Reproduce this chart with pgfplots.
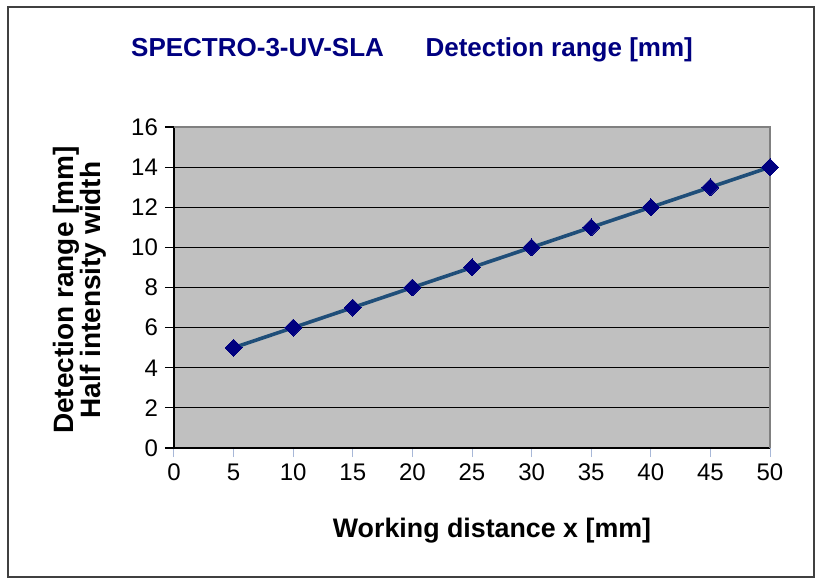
\documentclass[border=0pt]{standalone}
\usepackage{pgfplots}
\pgfplotsset{compat=1.18}
\usepackage{fontspec}
\setmainfont{Liberation Sans}
\definecolor{plotbg}{HTML}{C0C0C0}
\definecolor{navy}{HTML}{000080}
\definecolor{linec}{HTML}{1F4E79}
\definecolor{xtickc}{HTML}{A8B8D8}
\begin{document}
\begin{tikzpicture}
\useasboundingbox (-87pt,-65.5pt) rectangle (322pt,224pt);
\draw[black!75, line width=0.7pt] (-83pt,-64.5pt) rectangle (320pt,220.5pt);
\begin{axis}[
  at={(0pt,0pt)}, anchor=origin,
  scale only axis,
  width=298pt, height=160.5pt,
  xmin=0, xmax=50, ymin=0, ymax=16,
  xtick={0,5,...,50}, ytick={0,2,...,16},
  axis x line*=bottom, axis y line*=left,
  axis line style={black, line width=0.6pt, -},
  axis background/.style={fill=plotbg},
  ymajorgrids, grid style={black, line width=0.5pt},
  tick align=outside,
  major tick length=4.5pt,
  xtick style={xtickc, line width=0.5pt},
  ytick style={black, line width=0.6pt},
  tick label style={font=\fontsize{12}{14}\selectfont},
  /pgf/number format/assume math mode=true,
  clip=false,
]
\addplot[linec, line width=1.8pt, mark=square*, mark size=3pt,
  mark options={navy, fill=navy, rotate=45, line width=0pt}]
  coordinates {(5,5) (10,6) (15,7) (20,8) (25,9) (30,10) (35,11) (40,12) (45,13) (50,14)};
\draw[gray, line width=1pt] (rel axis cs:0,1) -- (rel axis cs:1,1) -- (rel axis cs:1,0);
\end{axis}
\node[navy, font=\fontsize{13}{15}\selectfont\bfseries] at (119pt,199pt) {SPECTRO-3-UV-SLA\hspace{1.6em}Detection range [mm]};
\node[font=\fontsize{13.4}{15}\selectfont\bfseries] at (159pt,-41.5pt) {Working distance x [mm]};
\node[font=\fontsize{14}{13.5}\selectfont\bfseries, rotate=90, align=center] at (-47pt,79pt) {Detection range [mm]\\Half intensity width};
\end{tikzpicture}
\end{document}
